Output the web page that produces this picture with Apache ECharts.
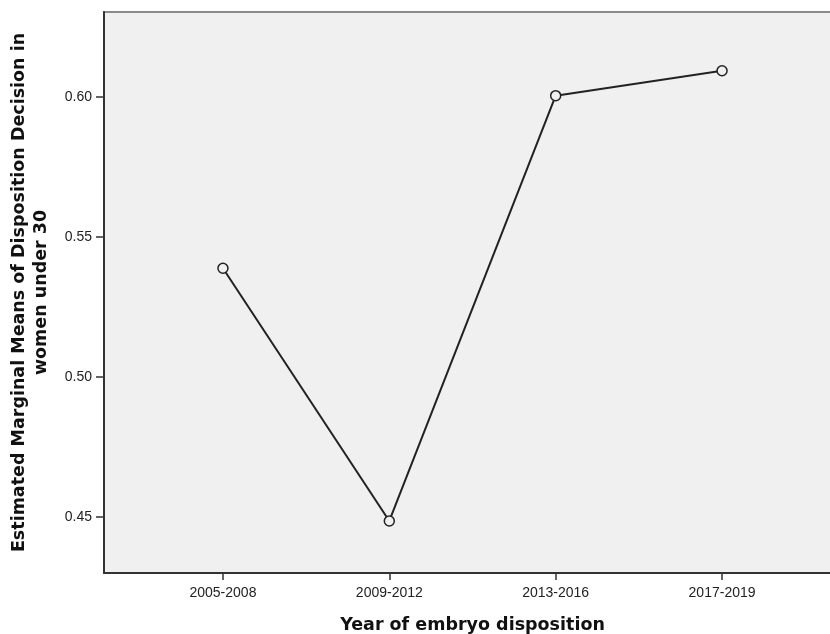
<!DOCTYPE html>
<html><head><meta charset="utf-8">
<script src="https://cdn.jsdelivr.net/npm/echarts@6/dist/echarts.min.js"></script>
<style>html,body{margin:0;padding:0;background:#fff}#c{width:830px;height:634px}</style>
</head><body><div id="c"></div>
<script>
const categories = ['2005-2008', '2009-2012', '2013-2016', '2017-2019'];
const means = [0.5388, 0.4485, 0.6005, 0.6094];
const yTicks = [0.45, 0.50, 0.55, 0.60];
const xTicks = [0, 1, 2, 3];

const chart = echarts.init(document.getElementById('c'));
chart.setOption({
  animation: false,
  grid: { left: 104, right: -11, top: 12, bottom: 61, outerBoundsMode: 'none', containLabel: false,
    show: true, backgroundColor: '#f0f0f0', borderColor: '#8a8a8a', borderWidth: 2 },
  xAxis: {
    type: 'value', min: -0.715, max: 3.715,
    name: 'Year of embryo disposition', nameLocation: 'middle', nameGap: 43,
    nameTextStyle: { fontFamily: 'DejaVu Sans', fontWeight: 'bold', fontSize: 17.5, color: '#111' },
    axisLine: { show: true, onZero: false, lineStyle: { color: '#333', width: 2 } },
    axisTick: { show: true, customValues: xTicks, length: 7, lineStyle: { color: '#333', width: 1.5 } },
    axisLabel: { customValues: xTicks, margin: 13, fontFamily: 'Liberation Sans', fontSize: 14, color: '#222',
      formatter: v => categories[Math.round(v)] },
    splitLine: { show: false }
  },
  yAxis: {
    type: 'value', min: 0.4299, max: 0.6304,
    name: 'Estimated Marginal Means of Disposition Decision in\nwomen under 30', nameLocation: 'middle', nameGap: 52,
    nameTextStyle: { fontFamily: 'DejaVu Sans', fontWeight: 'bold', fontSize: 17.5, color: '#111', lineHeight: 22 },
    axisLine: { show: true, onZero: false, lineStyle: { color: '#333', width: 2 } },
    axisTick: { show: true, customValues: yTicks, length: 8, lineStyle: { color: '#333', width: 1.5 } },
    axisLabel: { customValues: yTicks, margin: 12, fontFamily: 'Liberation Sans', fontSize: 14, color: '#222',
      formatter: v => v.toFixed(2) },
    splitLine: { show: false }
  },
  series: [{
    type: 'line',
    data: means.map((v, i) => [i, v]),
    symbol: 'circle', symbolSize: 10,
    itemStyle: { color: '#f0f0f0', borderColor: '#222', borderWidth: 1.5 },
    lineStyle: { color: '#222', width: 2 }
  }]
});
</script></body></html>
